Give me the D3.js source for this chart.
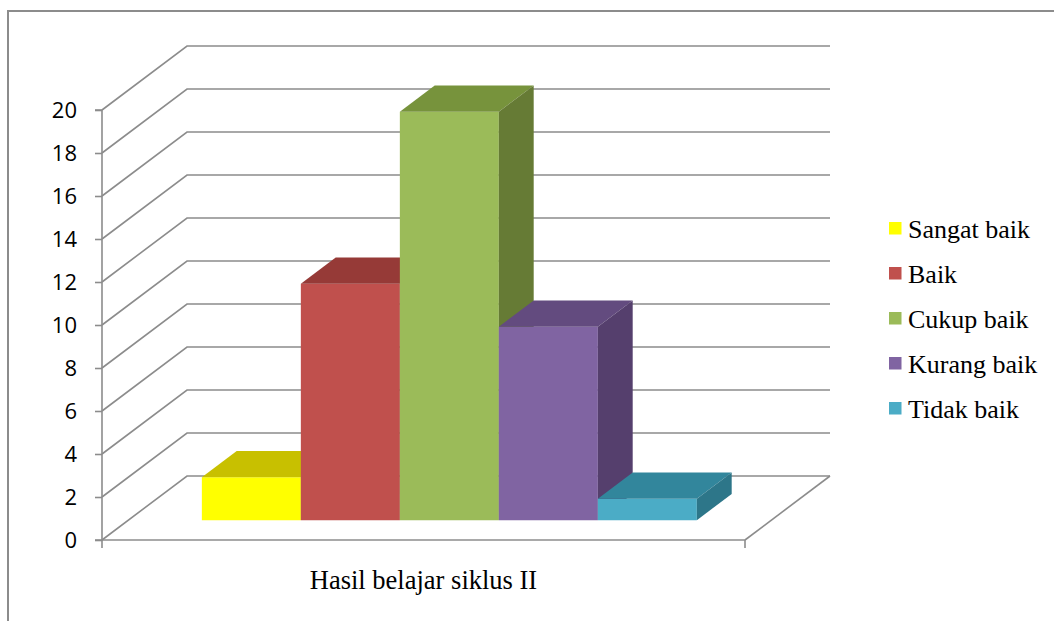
<!DOCTYPE html>
<html>
<head>
<meta charset="utf-8">
<script src="https://cdn.jsdelivr.net/npm/d3@7"></script>
<style>
  html, body { margin: 0; padding: 0; background: #ffffff; }
  svg { display: block; }
</style>
</head>
<body>
<svg id="chart" width="1054" height="621"></svg>
<script>
// Chart data
const category = "Hasil belajar siklus II";
const seriesNames = ["Sangat baik", "Baik", "Cukup baik", "Kurang baik", "Tidak baik"];
const seriesValues = [2, 11, 19, 9, 1];
const tickValues = [0, 2, 4, 6, 8, 10, 12, 14, 16, 18, 20];

// Face colours per series: front, top, right side
const frontColors = ["#ffff00", "#c0504d", "#9bbb59", "#8064a2", "#4bacc6"];
const topColors   = ["#c8c000", "#963a37", "#77933c", "#634b7f", "#32869c"];
const sideColors  = ["#a8a200", "#7f2f2d", "#667b35", "#553f6d", "#2d7689"];

const svg = d3.select("#chart");

// Oblique projection: depth fraction f shifts right/up by f*(DX, DY)
const DX = 85, DY = 64;
const y = d3.scaleLinear().domain([0, 20]).range([540, 110]);
const floorX = [102, 745];
const x = d3.scaleBand().domain(seriesNames).range([175.5, 670.5]).padding(0);
const BAR_F0 = 0.31, BAR_F1 = 0.72;
const P = (px, v, f) => [px + f * DX, y(v) - f * DY];
const poly = pts => "M" + pts.map(p => p.join(",")).join("L") + "Z";

const grid = "#8c8c8c";

// Outer frame
svg.append("rect")
  .attr("x", 8).attr("y", 11).attr("width", 1200).attr("height", 800)
  .attr("fill", "none").attr("stroke", grid).attr("stroke-width", 2);

// Back-wall and side-wall gridlines
const gl = svg.append("g").attr("stroke", grid).attr("stroke-width", 1.6).attr("fill", "none");
tickValues.forEach(v => {
  const a = P(floorX[0], v, 0), b = P(floorX[0], v, 1), c = P(floorX[1], v, 1);
  gl.append("path").attr("d", "M" + a + "L" + b + "L" + c);
});
// Floor right edge
gl.append("path").attr("d", "M" + P(floorX[1], 0, 0) + "L" + P(floorX[1], 0, 1));

// Value axis with ticks
const yAxis = d3.axisLeft(y).tickValues(tickValues).tickSize(7).tickPadding(18);
const ag = svg.append("g").attr("transform", `translate(${floorX[0]},0)`).call(yAxis);
ag.select(".domain").attr("stroke", grid).attr("stroke-width", 1.6)
  .attr("d", `M-7,${y(20)}H0V${y(0)}H-7`);
ag.selectAll(".tick line").attr("stroke", grid).attr("stroke-width", 1.6);
ag.selectAll(".tick text")
  .attr("font-family", "'Open Sans', 'Liberation Sans', sans-serif")
  .attr("font-size", 22).attr("fill", "#000");

// Category axis front edge with end ticks
const xg = svg.append("g").attr("stroke", grid).attr("stroke-width", 1.6).attr("fill", "none");
xg.append("path").attr("d", `M${floorX[0]},${y(0)}H${floorX[1]}`);
floorX.forEach(px => xg.append("path").attr("d", `M${px},${y(0)}V${y(0) + 8}`));

// Bars (drawn left to right so later fronts cover earlier sides)
const bars = svg.append("g");
seriesNames.forEach((name, i) => {
  const v = seriesValues[i];
  const x0 = x(name), x1 = x0 + x.bandwidth();
  const g = bars.append("g");
  // front
  g.append("path").attr("fill", frontColors[i])
    .attr("d", poly([P(x0, 0, BAR_F0), P(x1, 0, BAR_F0), P(x1, v, BAR_F0), P(x0, v, BAR_F0)]));
  // top
  g.append("path").attr("fill", topColors[i])
    .attr("d", poly([P(x0, v, BAR_F0), P(x1, v, BAR_F0), P(x1, v, BAR_F1), P(x0, v, BAR_F1)]));
  // right side
  g.append("path").attr("fill", sideColors[i])
    .attr("d", poly([P(x1, 0, BAR_F0), P(x1, 0, BAR_F1), P(x1, v, BAR_F1), P(x1, v, BAR_F0)]));
});

// Category label
svg.append("text")
  .attr("x", 423.5).attr("y", 589)
  .attr("text-anchor", "middle")
  .attr("font-family", "'Liberation Serif', 'Times New Roman', serif")
  .attr("font-size", 26.5).attr("fill", "#000")
  .text(category);

// Legend
const lg = svg.append("g").attr("transform", "translate(889,222)");
seriesNames.forEach((name, i) => {
  const row = lg.append("g").attr("transform", `translate(0,${i * 45})`);
  row.append("rect").attr("width", 12.5).attr("height", 12.5).attr("fill", frontColors[i]);
  row.append("text").attr("x", 19).attr("y", 16)
    .attr("font-family", "'Liberation Serif', 'Times New Roman', serif")
    .attr("font-size", 26).attr("fill", "#000")
    .text(name);
});
</script>
</body>
</html>
